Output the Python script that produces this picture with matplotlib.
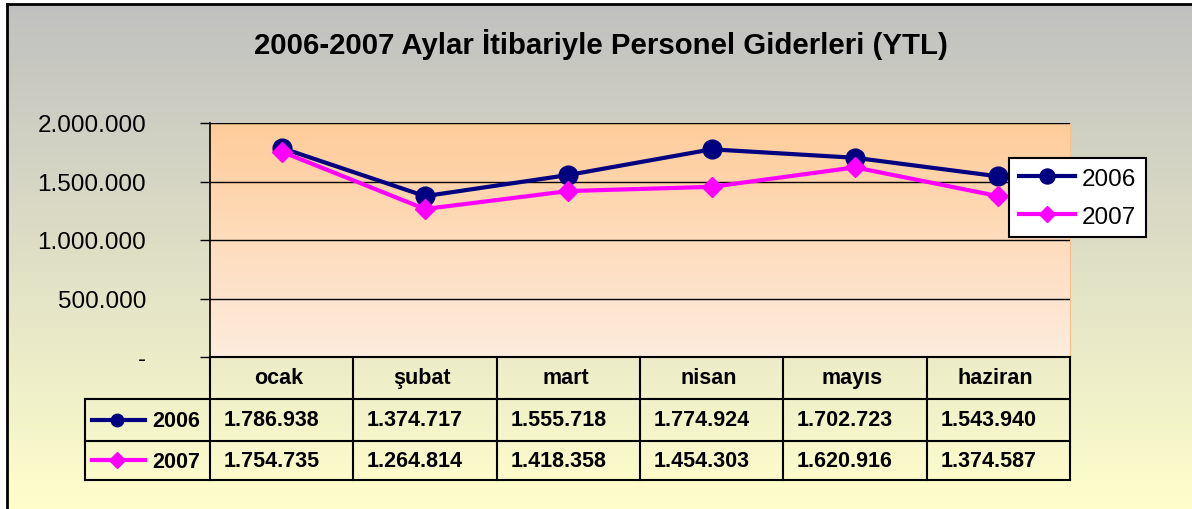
import numpy as np
import matplotlib.pyplot as plt
from matplotlib.ticker import FuncFormatter

plt.rcParams['font.family'] = ['Liberation Sans', 'DejaVu Sans']

months = ["ocak", "şubat", "mart", "nisan", "mayıs", "haziran"]
years = ["2006", "2007"]
giderler_2006 = [1786938, 1374717, 1555718, 1774924, 1702723, 1543940]
giderler_2007 = [1754735, 1264814, 1418358, 1454303, 1620916, 1374587]
series = [giderler_2006, giderler_2007]
colors = ["#000080", "#FF00FF"]
markers = ["o", "D"]
msizes = [13.5, 10.5]
title = "2006-2007 Aylar İtibariyle Personel Giderleri (YTL)"

W, H = 1192, 510


def fmt(v):
    return f"{v:,.0f}".replace(",", ".")


def vgrad(top, bottom, n=256):
    t = np.linspace(0, 1, n)[:, None, None]
    top = np.array(top, float)[None, None, :] / 255
    bottom = np.array(bottom, float)[None, None, :] / 255
    return top * (1 - t) + bottom * t


fig = plt.figure(figsize=(W / 100, H / 100), dpi=100, facecolor="white")

# background with gradient + frame (left / top edges visible)
bg = fig.add_axes([7 / W, -0.01, 1.01 - 7 / W, 1.01 - 5 / H])
bg.imshow(vgrad((192, 192, 192), (255, 255, 204)), aspect="auto", extent=(0, 1, 0, 1))
bg.set_xticks([])
bg.set_yticks([])
for s in ["right", "bottom"]:
    bg.spines[s].set_visible(False)
for s in ["left", "top"]:
    bg.spines[s].set_linewidth(2)
bg.set_zorder(-10)

fig.text(601 / W, 1 - 45 / H, title, ha="center", va="center",
         fontsize=21.2, fontweight="bold")

# main plot area
ax = fig.add_axes([210 / W, 1 - 358 / H, 860 / W, 234 / H])
x = np.arange(len(months))
ax.imshow(vgrad((255, 204, 153), (253, 236, 222)), aspect="auto",
          extent=(-0.5, 5.5, 0, 2000000), zorder=0)
ax.set_xlim(-0.5, 5.5)
ax.set_ylim(0, 2000000)
ax.set_yticks(np.arange(0, 2000001, 500000))
ax.yaxis.set_major_formatter(FuncFormatter(lambda v, _: "-" if v == 0 else fmt(v)))
ax.set_xticks([])
ax.tick_params(axis="y", length=7, width=1, labelsize=17.5, pad=39)
ax.yaxis.grid(True, color="black", lw=1, zorder=1)
ax.set_axisbelow(False)
ax.spines["left"].set_linewidth(1.2)
ax.spines["bottom"].set_linewidth(1.2)
ax.spines["top"].set_color("#D9A77A")
ax.spines["right"].set_color("#F8C08A")

lines = []
for vals, c, m, ms, lab in zip(series, colors, markers, msizes, years):
    ln, = ax.plot(x, vals, color=c, lw=3, marker=m, ms=ms, zorder=3, label=lab,
                  clip_on=False)
    lines.append(ln)

leg = ax.legend(handles=lines, loc="upper left", bbox_to_anchor=(1009 / W, 1 - 159 / H),
                bbox_transform=fig.transFigure, fontsize=17.5, fancybox=False,
                framealpha=1, edgecolor="black", borderpad=0.4, handlelength=2.3,
                handletextpad=0.3, labelspacing=0.65, markerscale=0.8, borderaxespad=0)
leg.get_frame().set_linewidth(1.5)

# data table under the plot, sharing the month positions
tab = fig.add_axes([85 / W, 1 - 481 / H, 985 / W, 123 / H])
tab.set_xlim(-0.5 - 125 / 143.33, 5.5)
tab.set_ylim(481, 358)
tab.axis("off")
x0 = -0.5 - 125 / 143.33
for yy in [400, 442, 481]:
    tab.plot([x0, 5.5], [yy, yy], color="black", lw=1.5, clip_on=False)
tab.plot([-0.5, 5.5], [358, 358], color="black", lw=1.5, clip_on=False)
tab.plot([x0, x0], [400, 481], color="black", lw=1.5, clip_on=False)
for k in range(len(months) + 1):
    tab.plot([k - 0.5, k - 0.5], [358, 481], color="black", lw=1.5, clip_on=False)

for i, mth in enumerate(months):
    tab.text(i - 0.02, 379, mth, ha="center", va="center", fontsize=15.5, fontweight="bold")

row_y = [421, 461.5]
for vals, c, m, yy, lab in zip(series, colors, markers, row_y, years):
    for i, v in enumerate(vals):
        tab.text(i - 0.07, yy, fmt(v), ha="center", va="center", fontsize=15.5,
                 fontweight="bold")
    tab.plot([-1.323, -0.953], [yy, yy], color=c, lw=3, clip_on=False)
    tab.plot([-1.149], [yy], color=c, marker=m, ms=9 if m == "o" else 8, clip_on=False)
    tab.text(-0.905, yy + 1, lab, ha="left", va="center", fontsize=15.5, fontweight="bold")

fig.savefig("out.png", dpi=100, facecolor=fig.get_facecolor())
